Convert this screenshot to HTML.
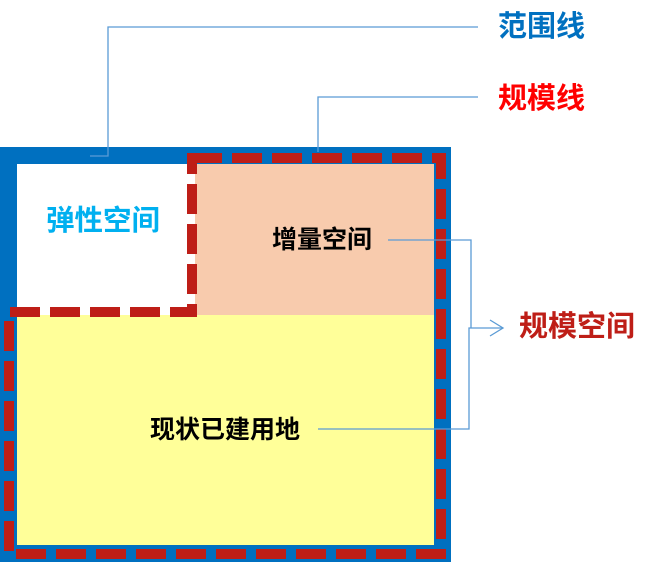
<!DOCTYPE html>
<html><head><meta charset="utf-8"><style>
body{margin:0;width:655px;height:562px;background:#fff;overflow:hidden;position:relative;font-family:"Liberation Sans","Noto Sans CJK SC",sans-serif;font-weight:bold}
.t{position:absolute;white-space:nowrap;line-height:1}
</style></head><body>
<svg width="655" height="562" style="position:absolute;left:0;top:0">
<rect x="0" y="147" width="451" height="415" fill="#0070C0"/>
<rect x="17" y="164" width="417" height="381" fill="#fff"/>
<rect x="195" y="164" width="239" height="151" fill="#F8CBAD"/>
<rect x="17" y="315" width="417" height="230" fill="#FFFF99"/>
<g fill="none" stroke="#BE1E17" stroke-width="10" stroke-dasharray="30 10">
<path d="M192 158 L441 158 L441 554 L9 554 L9 312 L192 312 Z"/>
</g>
<g fill="none" stroke="#5B9BD5" stroke-width="1.3">
<path d="M90 156 L108 156 L108 27 L478 27"/>
<path d="M318 152 L318 97 L478 97"/>
<path d="M388 240 L471 240 L471 328"/>
<path d="M318 429 L469 429 L469 328 L503 328"/>
<path d="M490 320 L503 328 L490 336"/>
</g>
</svg>
<div class="t" style="left:498px;top:13px;font-size:29px;color:#0070C0">范围线</div>
<div class="t" style="left:498px;top:85px;font-size:29px;color:#FF0000">规模线</div>
<div class="t" style="left:519px;top:313px;font-size:29px;color:#BE1E17">规模空间</div>
<div class="t" style="left:46px;top:207px;font-size:28.5px;color:#00B0F0">弹性空间</div>
<div class="t" style="left:272px;top:228px;font-size:25px;color:#000">增量空间</div>
<div class="t" style="left:150px;top:418px;font-size:25px;color:#000">现状已建用地</div>
</body></html>
